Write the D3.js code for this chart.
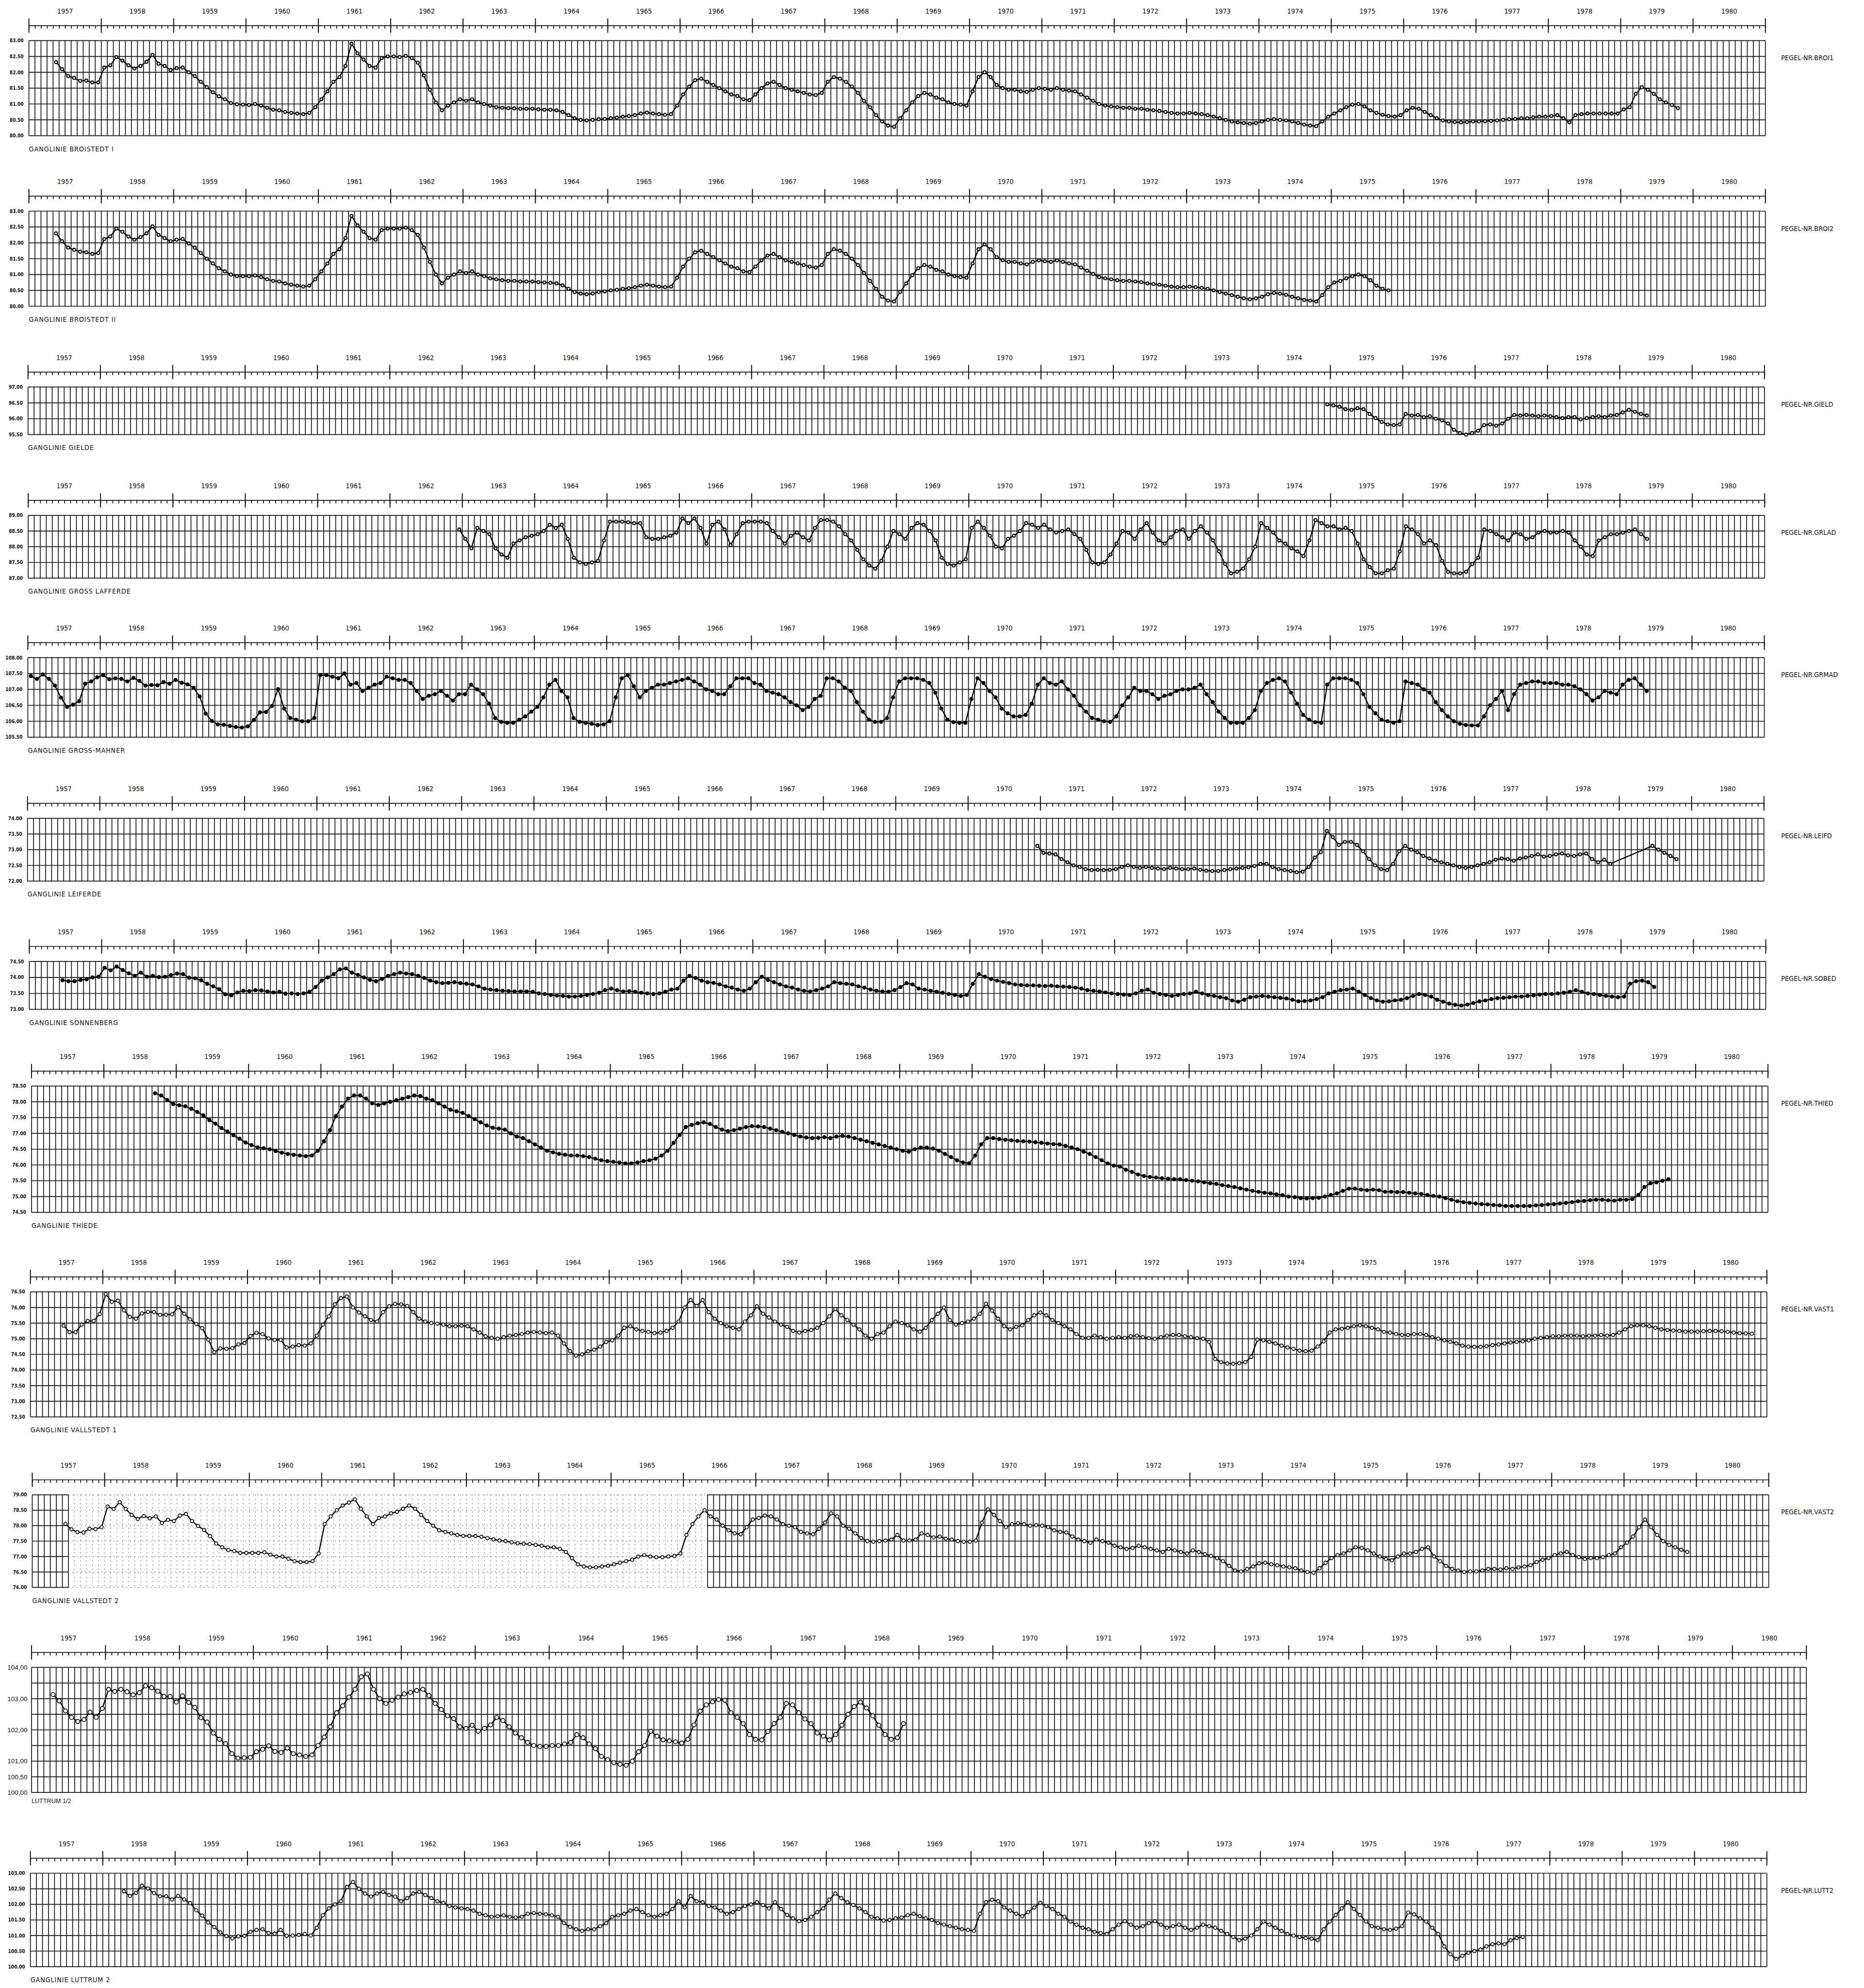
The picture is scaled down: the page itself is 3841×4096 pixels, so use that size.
<!DOCTYPE html>
<html>
<head>
<meta charset="utf-8">
<script src="https://cdn.jsdelivr.net/npm/d3@7"></script>
<style>
  body { margin: 0; background: #fff; }
  svg { display: block; }
  text.cond { font-family: 'DejaVu Sans Condensed', 'DejaVu Sans', sans-serif; font-stretch: condensed; fill: #111; }
  text.plain { font-family: 'Liberation Sans', Arial, sans-serif; fill: #111; }
</style>
</head>
<body>
<svg id="chart"></svg>
<script>
// Year labels along the top axis of every panel
const years = d3.range(1957, 1981);

// Monthly groundwater levels, one array per gauge.
// "...Start" = month index of the first value, counted from Jan 1957.
const broi1Start = 4;
const broi1 = [
  82.32, 82.10, 81.88, 81.82, 81.73, 81.74, 81.68, 81.68,
  82.15, 82.22, 82.48, 82.37, 82.22, 82.12, 82.20, 82.33, 82.55, 82.27, 82.20, 82.07,
  82.13, 82.15, 82.00, 81.88, 81.70, 81.53, 81.37, 81.24, 81.15, 81.03, 80.99, 80.98,
  80.97, 81.00, 80.95, 80.88, 80.82, 80.80, 80.75, 80.72, 80.70, 80.68, 80.72, 80.90,
  81.15, 81.40, 81.70, 81.85, 82.20, 82.90, 82.60, 82.40, 82.20, 82.15, 82.45, 82.50,
  82.50, 82.48, 82.52, 82.45, 82.30, 81.90, 81.45, 81.05, 80.80, 80.95, 81.05, 81.15,
  81.10, 81.15, 81.05, 81.00, 80.95, 80.90, 80.88, 80.87, 80.86, 80.85, 80.85, 80.85,
  80.83, 80.82, 80.82, 80.80, 80.75, 80.65, 80.55, 80.50, 80.48, 80.50, 80.52, 80.53,
  80.55, 80.57, 80.60, 80.62, 80.65, 80.70, 80.73, 80.70, 80.68, 80.66, 80.68, 80.95,
  81.30, 81.55, 81.75, 81.80, 81.70, 81.60, 81.50, 81.40, 81.30, 81.25, 81.15, 81.12,
  81.30, 81.50, 81.65, 81.70, 81.60, 81.50, 81.45, 81.40, 81.35, 81.30, 81.28, 81.35,
  81.70, 81.85, 81.80, 81.70, 81.55, 81.35, 81.10, 80.90, 80.65, 80.45, 80.32, 80.28,
  80.55, 80.80, 81.05, 81.25, 81.35, 81.30, 81.20, 81.15, 81.05, 81.00, 80.98, 80.95,
  81.40, 81.85, 82.00, 81.85, 81.60, 81.50, 81.45, 81.45, 81.40, 81.38, 81.45, 81.50,
  81.48, 81.45, 81.50, 81.45, 81.42, 81.40, 81.30, 81.20, 81.10, 81.00, 80.95, 80.92,
  80.90, 80.88, 80.88, 80.85, 80.85, 80.82, 80.80, 80.78, 80.75, 80.72, 80.70, 80.70,
  80.72, 80.70, 80.68, 80.65, 80.60, 80.55, 80.50, 80.45, 80.42, 80.40, 80.38, 80.40,
  80.45, 80.50, 80.52, 80.50, 80.48, 80.45, 80.40, 80.35, 80.32, 80.30, 80.45, 80.60,
  80.70, 80.80, 80.90, 80.98, 81.00, 80.92, 80.80, 80.72, 80.66, 80.62, 80.60, 80.65,
  80.80, 80.88, 80.85, 80.75, 80.65, 80.55, 80.48, 80.45, 80.43, 80.42, 80.43, 80.45,
  80.45, 80.46, 80.47, 80.48, 80.50, 80.52, 80.53, 80.55, 80.55, 80.58, 80.60, 80.60,
  80.62, 80.65, 80.55, 80.42, 80.65, 80.68, 80.70, 80.70, 80.70, 80.70, 80.70, 80.70,
  80.83, 80.90, 81.32, 81.53, 81.45, 81.32, 81.15, 81.05, 80.97, 80.87
];

const broi2Start = 4;
const broi2 = [
  82.30, 82.05, 81.85, 81.78, 81.72, 81.70, 81.65, 81.68,
  82.12, 82.20, 82.45, 82.35, 82.20, 82.10, 82.18, 82.30, 82.52, 82.25, 82.15, 82.05,
  82.10, 82.12, 81.98, 81.85, 81.68, 81.50, 81.35, 81.20, 81.10, 81.00, 80.95, 80.95,
  80.95, 80.97, 80.92, 80.85, 80.80, 80.78, 80.72, 80.68, 80.65, 80.62, 80.65, 80.85,
  81.10, 81.35, 81.65, 81.80, 82.15, 82.85, 82.55, 82.35, 82.15, 82.10, 82.40, 82.45,
  82.45, 82.45, 82.48, 82.40, 82.25, 81.85, 81.40, 81.00, 80.72, 80.90, 81.00, 81.10,
  81.05, 81.10, 81.00, 80.95, 80.88, 80.85, 80.82, 80.80, 80.80, 80.78, 80.78, 80.78,
  80.76, 80.75, 80.74, 80.72, 80.66, 80.55, 80.45, 80.40, 80.38, 80.40, 80.45, 80.47,
  80.50, 80.52, 80.55, 80.57, 80.60, 80.65, 80.68, 80.65, 80.62, 80.60, 80.62, 80.90,
  81.25, 81.50, 81.70, 81.75, 81.65, 81.55, 81.45, 81.35, 81.25, 81.20, 81.10, 81.08,
  81.25, 81.45, 81.60, 81.65, 81.55, 81.45, 81.40, 81.35, 81.30, 81.25, 81.22, 81.30,
  81.65, 81.80, 81.75, 81.65, 81.50, 81.30, 81.05, 80.80, 80.55, 80.30, 80.18, 80.15,
  80.45, 80.72, 80.98, 81.20, 81.30, 81.25, 81.15, 81.10, 81.00, 80.95, 80.92, 80.90,
  81.35, 81.80, 81.95, 81.80, 81.55, 81.45, 81.40, 81.40, 81.35, 81.32, 81.40, 81.45,
  81.42, 81.40, 81.45, 81.40, 81.35, 81.32, 81.22, 81.12, 81.02, 80.92, 80.88, 80.85,
  80.82, 80.80, 80.80, 80.78, 80.76, 80.72, 80.70, 80.68, 80.65, 80.62, 80.60, 80.60,
  80.62, 80.60, 80.58, 80.55, 80.50, 80.45, 80.40, 80.35, 80.30, 80.25, 80.22, 80.25,
  80.30, 80.38, 80.42, 80.40, 80.36, 80.30, 80.25, 80.20, 80.18, 80.15, 80.35, 80.60,
  80.75, 80.80, 80.88, 80.95, 81.00, 80.95, 80.82, 80.65, 80.55, 80.50
];

const gieldStart = 215;
const gield = [
  96.45,
  96.42, 96.38, 96.30, 96.28, 96.33, 96.30, 96.15, 96.02, 95.90, 95.82, 95.80, 95.82,
  96.15, 96.10, 96.12, 96.05, 96.08, 96.00, 95.95, 95.85, 95.65, 95.55, 95.50, 95.55,
  95.62, 95.80, 95.82, 95.78, 95.85, 96.00, 96.12, 96.10, 96.12, 96.10, 96.08, 96.10,
  96.08, 96.05, 96.02, 96.05, 96.05, 95.98, 96.02, 96.05, 96.08, 96.05, 96.10, 96.12,
  96.20, 96.28, 96.22, 96.15, 96.10
];

const grladStart = 71;
const grlad = [
  88.55,
  88.25, 87.95, 88.60, 88.50, 88.40, 87.95, 87.75, 87.65, 88.10, 88.20, 88.30, 88.35,
  88.40, 88.50, 88.70, 88.60, 88.70, 88.25, 87.65, 87.50, 87.45, 87.50, 87.55, 88.20,
  88.80, 88.80, 88.80, 88.78, 88.75, 88.75, 88.30, 88.25, 88.25, 88.30, 88.35, 88.45,
  88.90, 88.75, 88.90, 88.60, 88.10, 88.70, 88.80, 88.55, 88.05, 88.40, 88.75, 88.80,
  88.80, 88.80, 88.75, 88.50, 88.30, 88.10, 88.35, 88.45, 88.30, 88.20, 88.60, 88.85,
  88.85, 88.80, 88.65, 88.40, 88.20, 87.90, 87.60, 87.40, 87.30, 87.55, 88.00, 88.50,
  88.40, 88.25, 88.60, 88.75, 88.70, 88.50, 88.20, 87.65, 87.45, 87.40, 87.50, 87.60,
  88.60, 88.80, 88.60, 88.35, 88.00, 87.95, 88.25, 88.35, 88.50, 88.75, 88.70, 88.60,
  88.70, 88.55, 88.45, 88.50, 88.55, 88.40, 88.25, 87.90, 87.50, 87.45, 87.50, 87.75,
  88.10, 88.50, 88.45, 88.25, 88.55, 88.75, 88.45, 88.20, 88.10, 88.30, 88.50, 88.55,
  88.25, 88.50, 88.65, 88.45, 88.20, 87.85, 87.45, 87.15, 87.20, 87.30, 87.60, 88.00,
  88.75, 88.60, 88.45, 88.20, 88.10, 87.95, 87.85, 87.70, 88.20, 88.85, 88.75, 88.65,
  88.65, 88.55, 88.60, 88.50, 88.10, 87.60, 87.35, 87.15, 87.15, 87.25, 87.30, 87.85,
  88.65, 88.55, 88.40, 88.10, 88.20, 88.05, 87.55, 87.20, 87.15, 87.15, 87.20, 87.45,
  87.65, 88.55, 88.50, 88.40, 88.30, 88.20, 88.45, 88.40, 88.25, 88.30, 88.45, 88.50,
  88.45, 88.45, 88.50, 88.45, 88.20, 88.00, 87.75, 87.70, 88.20, 88.30, 88.40, 88.40,
  88.45, 88.50, 88.55, 88.40, 88.25
];

const grmadStart = 0;
const grmad = [
  107.42, 107.33, 107.47, 107.33, 107.12, 106.74, 106.45, 106.52, 106.63, 107.18, 107.25, 107.38,
  107.45, 107.32, 107.35, 107.33, 107.25, 107.36, 107.27, 107.12, 107.14, 107.13, 107.23, 107.18,
  107.30, 107.21, 107.16, 107.05, 106.78, 106.24, 106.01, 105.90, 105.89, 105.85, 105.82, 105.80,
  105.84, 106.04, 106.28, 106.29, 106.48, 107.01, 106.40, 106.10, 106.05, 106.00, 106.00, 106.10,
  107.45, 107.45, 107.40, 107.35, 107.50, 107.15, 107.20, 106.95, 107.05, 107.15, 107.20, 107.40,
  107.35, 107.30, 107.30, 107.20, 106.95, 106.70, 106.80, 106.85, 106.95, 106.80, 106.65, 106.85,
  106.85, 107.15, 107.00, 106.85, 106.55, 106.10, 105.98, 105.95, 105.95, 106.05, 106.15, 106.30,
  106.45, 106.75, 107.15, 107.30, 106.95, 106.75, 106.10, 105.98, 105.95, 105.92, 105.88, 105.90,
  106.00, 106.75, 107.35, 107.45, 107.10, 106.75, 106.95, 107.05, 107.15, 107.15, 107.20, 107.25,
  107.30, 107.35, 107.25, 107.15, 107.00, 106.95, 106.85, 106.85, 107.10, 107.35, 107.35, 107.35,
  107.20, 107.15, 106.95, 106.90, 106.85, 106.75, 106.60, 106.50, 106.35, 106.45, 106.70, 106.80,
  107.35, 107.35, 107.25, 107.05, 106.95, 106.60, 106.30, 106.05, 105.98, 105.98, 106.10, 106.75,
  107.25, 107.35, 107.35, 107.35, 107.30, 107.20, 106.90, 106.40, 106.05, 105.97, 105.95, 105.95,
  106.70, 107.35, 107.20, 106.95, 106.75, 106.40, 106.25, 106.15, 106.15, 106.20, 106.55, 107.15,
  107.35, 107.20, 107.15, 107.25, 107.00, 106.80, 106.50, 106.30, 106.10, 106.05, 106.00, 105.98,
  106.15, 106.50, 106.75, 107.05, 106.95, 106.95, 106.85, 106.70, 106.80, 106.85, 106.95, 107.00,
  107.00, 107.05, 107.15, 106.85, 106.60, 106.30, 106.10, 105.95, 105.95, 105.95, 106.10, 106.35,
  106.95, 107.20, 107.30, 107.35, 107.25, 106.90, 106.55, 106.20, 106.05, 105.97, 105.95, 107.15,
  107.35, 107.35, 107.35, 107.30, 107.20, 106.85, 106.45, 106.25, 106.05, 106.00, 105.95, 106.00,
  107.25, 107.20, 107.15, 107.00, 106.90, 106.60, 106.35, 106.15, 106.00, 105.92, 105.88, 105.87,
  105.87, 106.15, 106.50, 106.70, 106.95, 106.35, 106.85, 107.15, 107.20, 107.25, 107.25, 107.20,
  107.20, 107.20, 107.15, 107.15, 107.10, 107.00, 106.85, 106.65, 106.75, 106.95, 106.90, 106.85,
  107.15, 107.30, 107.35, 107.15, 106.95
];

// null = no reading (the plotter joined the gap with a straight line)
const leifdStart = 167;
const leifd = [
  73.12,
  72.90, 72.88, 72.85, 72.70, 72.60, 72.50, 72.45, 72.38, 72.35, 72.36, 72.35, 72.36,
  72.38, 72.45, 72.50, 72.45, 72.42, 72.45, 72.42, 72.40, 72.38, 72.42, 72.40, 72.38,
  72.38, 72.40, 72.36, 72.33, 72.32, 72.32, 72.35, 72.38, 72.40, 72.42, 72.44, 72.48,
  72.55, 72.55, 72.45, 72.38, 72.35, 72.32, 72.28, 72.30, 72.45, 72.75, 72.92, 73.60,
  73.40, 73.15, 73.25, 73.25, 73.15, 72.95, 72.70, 72.50, 72.38, 72.35, 72.55, 72.95,
  73.12, 73.00, 72.92, 72.80, 72.72, 72.65, 72.60, 72.55, 72.50, 72.45, 72.42, 72.45,
  72.50, 72.55, 72.60, 72.68, 72.72, 72.70, 72.65, 72.72, 72.75, 72.80, 72.85, 72.78,
  72.80, 72.85, 72.88, 72.82, 72.80, 72.85, 72.88, 72.70, 72.60, 72.68, 72.55, null,
  null, null, null, null, null, 73.12, 73.00, 72.90, 72.80, 72.70
];

const sobedStart = 5;
const sobed = [
  73.91, 73.88, 73.88, 73.92, 73.94, 74.00, 74.02,
  74.30, 74.22, 74.34, 74.23, 74.13, 74.05, 74.15, 74.02, 74.05, 74.01, 74.02, 74.07,
  74.12, 74.10, 73.99, 73.97, 73.91, 73.80, 73.72, 73.63, 73.47, 73.44, 73.53, 73.58,
  73.57, 73.60, 73.59, 73.56, 73.53, 73.55, 73.49, 73.50, 73.48, 73.50, 73.55, 73.70,
  73.90, 74.00, 74.10, 74.25, 74.28, 74.15, 74.08, 74.00, 73.92, 73.88, 73.95, 74.05,
  74.10, 74.15, 74.12, 74.10, 74.05, 73.98, 73.90, 73.85, 73.82, 73.83, 73.85, 73.82,
  73.80, 73.78, 73.72, 73.65, 73.62, 73.60, 73.58, 73.57, 73.56, 73.56, 73.56, 73.55,
  73.50, 73.48, 73.45, 73.43, 73.42, 73.40, 73.40, 73.42, 73.45, 73.48, 73.52, 73.60,
  73.65, 73.60, 73.56, 73.57, 73.55, 73.52, 73.50, 73.48, 73.50, 73.55, 73.62, 73.65,
  73.90, 74.05, 73.98, 73.90, 73.85, 73.83, 73.78, 73.72, 73.68, 73.62, 73.58, 73.65,
  73.85, 74.02, 73.92, 73.85, 73.78, 73.72, 73.68, 73.62, 73.58, 73.56, 73.60, 73.65,
  73.72, 73.85, 73.82, 73.80, 73.78, 73.72, 73.68, 73.62, 73.58, 73.56, 73.55, 73.60,
  73.70, 73.82, 73.78, 73.65, 73.62, 73.58, 73.55, 73.52, 73.48, 73.45, 73.42, 73.45,
  73.80, 74.10, 74.02, 73.95, 73.90, 73.86, 73.82, 73.78, 73.76, 73.75, 73.75, 73.74,
  73.73, 73.74, 73.72, 73.71, 73.70, 73.68, 73.65, 73.60, 73.58, 73.56, 73.53, 73.50,
  73.48, 73.46, 73.45, 73.50, 73.58, 73.62, 73.52, 73.48, 73.45, 73.42, 73.45, 73.48,
  73.50, 73.55, 73.50, 73.45, 73.42, 73.38, 73.35, 73.28, 73.24, 73.30, 73.38, 73.40,
  73.42, 73.40, 73.38, 73.36, 73.34, 73.30, 73.25, 73.26, 73.28, 73.32, 73.38, 73.50,
  73.55, 73.60, 73.62, 73.65, 73.55, 73.45, 73.35, 73.28, 73.24, 73.25, 73.28, 73.30,
  73.35, 73.42, 73.48, 73.45, 73.40, 73.30, 73.24, 73.18, 73.14, 73.12, 73.15, 73.20,
  73.25, 73.28, 73.32, 73.35, 73.36, 73.38, 73.40, 73.40, 73.42, 73.44, 73.46, 73.48,
  73.48, 73.50, 73.52, 73.55, 73.60, 73.55, 73.50, 73.48, 73.45, 73.42, 73.40, 73.38,
  73.40, 73.80, 73.88, 73.90, 73.85, 73.70
];

const thiedStart = 20;
const thied = [
  78.27, 78.20, 78.06, 77.93,
  77.89, 77.86, 77.78, 77.68, 77.57, 77.42, 77.31, 77.17, 77.06, 76.94, 76.83, 76.71,
  76.63, 76.56, 76.53, 76.50, 76.44, 76.39, 76.35, 76.32, 76.30, 76.28, 76.30, 76.45,
  76.75, 77.10, 77.55, 77.85, 78.10, 78.20, 78.20, 78.10, 77.95, 77.90, 77.95, 78.00,
  78.05, 78.10, 78.15, 78.20, 78.18, 78.10, 78.05, 77.95, 77.85, 77.75, 77.70, 77.65,
  77.55, 77.45, 77.35, 77.25, 77.18, 77.15, 77.12, 77.00, 76.90, 76.85, 76.75, 76.65,
  76.55, 76.45, 76.40, 76.35, 76.32, 76.30, 76.30, 76.28, 76.25, 76.20, 76.15, 76.12,
  76.10, 76.08, 76.05, 76.05, 76.08, 76.12, 76.15, 76.20, 76.30, 76.45, 76.70, 76.95,
  77.20, 77.27, 77.32, 77.35, 77.30, 77.20, 77.12, 77.07, 77.10, 77.15, 77.20, 77.23,
  77.22, 77.20, 77.15, 77.10, 77.05, 77.00, 76.95, 76.90, 76.87, 76.85, 76.86, 76.88,
  76.85, 76.90, 76.92, 76.90, 76.85, 76.80, 76.75, 76.70, 76.65, 76.60, 76.55, 76.50,
  76.45, 76.42, 76.50, 76.55, 76.55, 76.52, 76.45, 76.35, 76.25, 76.15, 76.08, 76.05,
  76.30, 76.65, 76.85, 76.85, 76.82, 76.80, 76.78, 76.76, 76.75, 76.74, 76.72, 76.70,
  76.68, 76.66, 76.65, 76.60, 76.55, 76.50, 76.42, 76.35, 76.25, 76.15, 76.05, 75.98,
  75.95, 75.85, 75.78, 75.70, 75.65, 75.62, 75.60, 75.58, 75.56, 75.55, 75.55, 75.52,
  75.50, 75.48, 75.45, 75.42, 75.40, 75.36, 75.33, 75.30, 75.26, 75.22, 75.18, 75.15,
  75.12, 75.10, 75.07, 75.04, 75.00, 74.98, 74.95, 74.94, 74.95, 74.96, 75.00, 75.05,
  75.10, 75.18, 75.25, 75.25, 75.22, 75.20, 75.22, 75.20, 75.15, 75.15, 75.14, 75.14,
  75.12, 75.10, 75.08, 75.05, 75.02, 75.00, 74.95, 74.90, 74.85, 74.82, 74.80, 74.78,
  74.76, 74.75, 74.73, 74.72, 74.70, 74.70, 74.70, 74.70, 74.70, 74.72, 74.73, 74.75,
  74.76, 74.78, 74.80, 74.82, 74.85, 74.86, 74.88, 74.90, 74.90, 74.88, 74.87, 74.90,
  74.90, 74.92, 75.05, 75.30, 75.42, 75.45, 75.50, 75.55
];

const vast1Start = 5;
const vast1 = [
  75.42, 75.21, 75.21, 75.45, 75.57, 75.57, 75.79,
  76.43, 76.18, 76.22, 75.91, 75.70, 75.64, 75.81, 75.86, 75.85, 75.76, 75.77, 75.78,
  76.01, 75.80, 75.62, 75.47, 75.34, 74.97, 74.57, 74.69, 74.68, 74.70, 74.82, 74.86,
  75.09, 75.19, 75.15, 75.01, 74.96, 74.96, 74.72, 74.75, 74.80, 74.78, 74.85, 75.10,
  75.45, 75.72, 76.10, 76.30, 76.35, 76.00, 75.84, 75.72, 75.60, 75.55, 75.85, 76.04,
  76.12, 76.10, 76.05, 75.85, 75.64, 75.55, 75.50, 75.48, 75.45, 75.40, 75.40, 75.42,
  75.40, 75.30, 75.20, 75.08, 75.03, 75.00, 75.05, 75.10, 75.12, 75.15, 75.20, 75.22,
  75.20, 75.18, 75.20, 75.10, 74.85, 74.60, 74.46, 74.50, 74.60, 74.65, 74.75, 74.90,
  74.95, 75.10, 75.35, 75.40, 75.30, 75.25, 75.22, 75.18, 75.20, 75.25, 75.35, 75.55,
  76.00, 76.24, 76.05, 76.24, 75.85, 75.64, 75.50, 75.40, 75.35, 75.30, 75.55, 75.75,
  76.04, 75.80, 75.68, 75.55, 75.45, 75.38, 75.25, 75.20, 75.25, 75.28, 75.35, 75.50,
  75.72, 75.95, 75.75, 75.60, 75.45, 75.30, 75.10, 75.00, 75.15, 75.20, 75.40, 75.55,
  75.50, 75.43, 75.30, 75.23, 75.35, 75.60, 75.80, 76.00, 75.60, 75.45, 75.50, 75.55,
  75.64, 75.80, 76.12, 75.90, 75.64, 75.40, 75.30, 75.38, 75.43, 75.60, 75.75, 75.84,
  75.75, 75.60, 75.50, 75.40, 75.30, 75.15, 75.03, 75.03, 75.10, 75.05, 75.00, 75.03,
  75.05, 75.03, 75.08, 75.10, 75.05, 75.02, 75.00, 75.05, 75.10, 75.12, 75.12, 75.08,
  75.05, 75.02, 75.00, 74.90, 74.35, 74.25, 74.21, 74.20, 74.22, 74.25, 74.42, 74.97,
  74.95, 74.90, 74.85, 74.78, 74.72, 74.68, 74.62, 74.60, 74.62, 74.75, 74.92, 75.20,
  75.30, 75.32, 75.35, 75.40, 75.43, 75.40, 75.35, 75.30, 75.22, 75.20, 75.15, 75.12,
  75.12, 75.15, 75.15, 75.12, 75.05, 75.00, 74.95, 74.90, 74.85, 74.78, 74.75, 74.74,
  74.74, 74.76, 74.80, 74.82, 74.85, 74.88, 74.90, 74.92, 74.95, 75.00, 75.03, 75.05,
  75.08, 75.08, 75.10, 75.10, 75.10, 75.08, 75.10, 75.10, 75.12, 75.10, 75.12, 75.20,
  75.30, 75.40, 75.43, 75.43, 75.40, 75.35, 75.30, 75.28, 75.26, 75.25, 75.23, 75.23,
  75.23, 75.24, 75.25, 75.25, 75.24, 75.22, 75.20, 75.18, 75.17, 75.16
];

const vast2Start = 5;
const vast2 = [
  78.06, 77.88, 77.79, 77.78, 77.90, 77.89, 77.95,
  78.62, 78.54, 78.76, 78.54, 78.35, 78.22, 78.31, 78.24, 78.30, 78.09, 78.19, 78.15,
  78.33, 78.38, 78.15, 77.99, 77.86, 77.66, 77.42, 77.30, 77.21, 77.18, 77.12, 77.12,
  77.12, 77.12, 77.14, 77.06, 77.00, 77.00, 76.93, 76.85, 76.82, 76.82, 76.85, 77.10,
  78.05, 78.30, 78.50, 78.65, 78.75, 78.85, 78.55, 78.30, 78.05, 78.25, 78.30, 78.40,
  78.45, 78.55, 78.65, 78.55, 78.35, 78.15, 78.00, 77.85, 77.80, 77.75, 77.70, 77.67,
  77.67, 77.66, 77.64, 77.60, 77.56, 77.52, 77.50, 77.46, 77.43, 77.42, 77.40, 77.38,
  77.35, 77.30, 77.30, 77.25, 77.15, 76.95, 76.75, 76.68, 76.65, 76.65, 76.68, 76.70,
  76.75, 76.80, 76.85, 76.90, 77.00, 77.05, 77.00, 76.98, 76.98, 77.00, 77.02, 77.10,
  77.70, 78.05, 78.30, 78.50, 78.30, 78.20, 78.00, 77.85, 77.75, 77.72, 77.95, 78.20,
  78.25, 78.33, 78.30, 78.20, 78.05, 78.00, 77.95, 77.80, 77.75, 77.72, 77.90, 78.10,
  78.40, 78.30, 78.00, 77.90, 77.75, 77.60, 77.50, 77.48, 77.50, 77.52, 77.55, 77.70,
  77.52, 77.52, 77.55, 77.75, 77.70, 77.62, 77.65, 77.58, 77.55, 77.50, 77.48, 77.48,
  77.52, 78.10, 78.53, 78.35, 78.15, 77.95, 78.05, 78.08, 78.05, 78.00, 78.02, 78.00,
  77.95, 77.85, 77.80, 77.78, 77.65, 77.55, 77.50, 77.45, 77.55, 77.50, 77.45, 77.35,
  77.30, 77.25, 77.28, 77.35, 77.30, 77.25, 77.20, 77.15, 77.25, 77.20, 77.15, 77.10,
  77.20, 77.15, 77.08, 77.02, 76.95, 76.85, 76.70, 76.55, 76.52, 76.60, 76.68, 76.78,
  76.80, 76.75, 76.72, 76.68, 76.65, 76.62, 76.55, 76.50, 76.48, 76.62, 76.80, 76.95,
  77.05, 77.10, 77.20, 77.30, 77.28, 77.20, 77.10, 77.00, 76.92, 76.88, 77.00, 77.10,
  77.10, 77.15, 77.25, 77.30, 77.00, 76.85, 76.70, 76.60, 76.55, 76.50, 76.52, 76.52,
  76.55, 76.60, 76.60, 76.58, 76.62, 76.60, 76.65, 76.68, 76.72, 76.82, 76.90, 76.95,
  77.05, 77.10, 77.15, 77.05, 76.98, 76.92, 76.95, 76.95, 76.98, 77.05, 77.10, 77.30,
  77.45, 77.65, 77.95, 78.20, 77.95, 77.70, 77.50, 77.38, 77.30, 77.22, 77.15
];

const lutt12Start = 3;
const lutt12 = [
  103.13, 102.93, 102.61, 102.40, 102.27, 102.33, 102.57, 102.40, 102.69,
  103.30, 103.23, 103.30, 103.22, 103.12, 103.19, 103.41, 103.35, 103.24, 103.07, 103.07, 102.89,
  103.09, 102.88, 102.72, 102.39, 102.25, 101.90, 101.70, 101.56, 101.24, 101.10, 101.11, 101.12,
  101.30, 101.38, 101.49, 101.31, 101.28, 101.42, 101.24, 101.20, 101.15, 101.20, 101.50, 101.77,
  102.10, 102.55, 102.77, 103.05, 103.30, 103.70, 103.79, 103.30, 103.00, 102.85, 102.95, 103.05,
  103.15, 103.20, 103.26, 103.30, 103.10, 102.85, 102.65, 102.45, 102.36, 102.10, 102.05, 102.15,
  101.96, 102.05, 102.16, 102.40, 102.30, 102.10, 101.90, 101.75, 101.60, 101.50, 101.47, 101.47,
  101.50, 101.50, 101.55, 101.60, 101.85, 101.75, 101.55, 101.40, 101.15, 101.05, 100.95, 100.90,
  100.87, 101.00, 101.30, 101.50, 101.96, 101.80, 101.68, 101.65, 101.62, 101.58, 101.70, 102.16,
  102.60, 102.80, 102.90, 102.97, 102.95, 102.55, 102.40, 102.20, 101.85, 101.70, 101.68, 101.95,
  102.20, 102.40, 102.85, 102.80, 102.55, 102.35, 102.20, 101.90, 101.80, 101.68, 101.85, 102.15,
  102.50, 102.75, 102.89, 102.70, 102.45, 102.15, 101.85, 101.70, 101.75, 102.20
];

const lutt2Start = 15;
const lutt2 = [
  102.42, 102.27, 102.37, 102.60, 102.51, 102.36, 102.26, 102.26, 102.16,
  102.27, 102.16, 102.04, 101.81, 101.64, 101.42, 101.27, 101.10, 100.98, 100.91, 100.97, 100.99,
  101.12, 101.18, 101.20, 101.08, 101.06, 101.18, 100.99, 101.00, 101.02, 101.05, 101.00, 101.25,
  101.65, 101.87, 102.00, 102.10, 102.56, 102.72, 102.50, 102.35, 102.25, 102.35, 102.40, 102.30,
  102.25, 102.10, 102.20, 102.35, 102.40, 102.30, 102.20, 102.10, 102.05, 101.95, 101.90, 101.87,
  101.85, 101.80, 101.70, 101.65, 101.60, 101.62, 101.65, 101.60, 101.58, 101.60, 101.70, 101.72,
  101.70, 101.68, 101.65, 101.60, 101.40, 101.28, 101.20, 101.15, 101.20, 101.20, 101.30, 101.40,
  101.60, 101.65, 101.70, 101.80, 101.85, 101.75, 101.65, 101.60, 101.65, 101.70, 101.85, 102.10,
  101.90, 102.27, 102.10, 102.07, 101.95, 101.90, 101.80, 101.70, 101.75, 101.85, 101.95, 102.00,
  102.07, 101.98, 101.87, 102.07, 101.85, 101.66, 101.55, 101.46, 101.50, 101.60, 101.75, 101.87,
  102.15, 102.35, 102.20, 102.07, 101.98, 101.87, 101.75, 101.60, 101.55, 101.48, 101.50, 101.55,
  101.58, 101.65, 101.70, 101.62, 101.55, 101.50, 101.40, 101.35, 101.30, 101.25, 101.20, 101.18,
  101.15, 101.70, 102.07, 102.15, 102.10, 101.90, 101.80, 101.70, 101.62, 101.75, 101.90, 102.05,
  101.95, 101.85, 101.70, 101.60, 101.45, 101.35, 101.25, 101.20, 101.12, 101.08, 101.05, 101.20,
  101.35, 101.46, 101.35, 101.25, 101.30, 101.40, 101.46, 101.35, 101.25, 101.30, 101.35, 101.25,
  101.18, 101.25, 101.35, 101.30, 101.25, 101.15, 101.05, 100.95, 100.85, 100.90, 101.00, 101.20,
  101.45, 101.35, 101.25, 101.15, 101.05, 101.00, 100.95, 100.92, 100.90, 100.85, 101.20, 101.45,
  101.66, 101.87, 102.07, 101.85, 101.66, 101.45, 101.30, 101.25, 101.20, 101.18, 101.22, 101.30,
  101.74, 101.68, 101.55, 101.45, 101.25, 101.05, 100.65, 100.40, 100.25, 100.35, 100.45, 100.50,
  100.55, 100.65, 100.72, 100.75, 100.72, 100.85, 100.92, 100.95
];

// Panel layout, in the reference's own pixel space (the viewBox shrinks it to the window)
const panels = [
  { values: broi1, start: broi1Start, yMin: 80, steps: 6, top: 99, bottom: 331, left: 70.5, title: 'GANGLINIE BROISTEDT I', pegel: 'PEGEL-NR.BROI1' },
  { values: broi2, start: broi2Start, yMin: 80, steps: 6, top: 515, bottom: 747, left: 70.5, title: 'GANGLINIE BROISTEDT II', pegel: 'PEGEL-NR.BROI2' },
  { values: gield, start: gieldStart, yMin: 95.5, steps: 3, top: 944, bottom: 1060, left: 68.3, title: 'GANGLINIE GIELDE', pegel: 'PEGEL-NR.GIELD' },
  { values: grlad, start: grladStart, yMin: 87, steps: 4, top: 1257, bottom: 1410, left: 68.7, title: 'GANGLINIE GROSS LAFFERDE', pegel: 'PEGEL-NR.GRLAD' },
  { values: grmad, start: grmadStart, yMin: 105.5, steps: 5, top: 1604, bottom: 1798, left: 67.9, title: 'GANGLINIE GROSS-MAHNER', pegel: 'PEGEL-NR.GRMAD', filled: true },
  { values: leifd, start: leifdStart, yMin: 72, steps: 4, top: 1996, bottom: 2149, left: 67, title: 'GANGLINIE LEIFERDE', pegel: 'PEGEL-NR.LEIFD' },
  { values: sobed, start: sobedStart, yMin: 73, steps: 3, top: 2345, bottom: 2462, left: 71.4, title: 'GANGLINIE SONNENBERG', pegel: 'PEGEL-NR.SOBED', filled: true },
  { values: thied, start: thiedStart, yMin: 74.5, steps: 8, top: 2649, bottom: 2957, left: 76.8, title: 'GANGLINIE THIEDE', pegel: 'PEGEL-NR.THIED', filled: true },
  { values: vast1, start: vast1Start, yMin: 72.5, steps: 8, top: 3151, bottom: 3456, left: 74.1, title: 'GANGLINIE VALLSTEDT 1', pegel: 'PEGEL-NR.VAST1', open: true },
  { values: vast2, start: vast2Start, yMin: 76, steps: 6, top: 3646, bottom: 3872, left: 78.6, title: 'GANGLINIE VALLSTEDT 2', pegel: 'PEGEL-NR.VAST2', fade: [6, 112], open: true },
  { values: lutt12, start: lutt12Start, yMin: 100, steps: 8, top: 4067, bottom: 4372, left: 76.8, yearW: 180.4, title: 'LUTTRUM 1/2', pegel: null, alt: true, open: true },
  { values: lutt2, start: lutt2Start, yMin: 100, steps: 6, top: 4569, bottom: 4797, left: 74.1, title: 'GANGLINIE LUTTRUM 2', pegel: 'PEGEL-NR.LUTT2', open: true }
];

const svg = d3.select('#chart')
  .attr('width', 3841)
  .attr('height', 4096)
  .attr('viewBox', '0 0 4547 4849');

svg.append('rect').attr('width', 4547).attr('height', 4849).attr('fill', '#fff');

const ink = '#111';
const fadeInk = '#9a9a9a';

panels.forEach(p => {
  const g = svg.append('g');
  const yearW = p.yearW || 176.5;
  const x = d3.scaleLinear().domain([0, 288]).range([p.left, p.left + 24 * yearW]);
  const y = d3.scaleLinear().domain([p.yMin, p.yMin + p.steps * 0.5]).range([p.bottom, p.top]);
  const axisY = p.top - 37;
  const faded = m => p.fade && m > p.fade[0] && m < p.fade[1];

  // top time axis, month ticks hanging below the line
  g.append('g')
    .attr('transform', `translate(0,${axisY})`)
    .call(d3.axisBottom(x).tickValues(d3.range(0, 289)).tickSize(8).tickSizeOuter(0).tickFormat(''))
    .call(a => a.selectAll('line, path').attr('stroke', ink).attr('stroke-width', 2));

  // year ticks crossing the axis
  g.selectAll('line.year-tick')
    .data(d3.range(0, 289, 12))
    .enter()
    .append('line')
    .attr('class', 'year-tick')
    .attr('x1', d => x(d)).attr('x2', d => x(d))
    .attr('y1', axisY - 17).attr('y2', axisY + 18)
    .attr('stroke', ink)
    .attr('stroke-width', 2.4);

  // year labels, centred on each year
  g.selectAll('text.year')
    .data(years)
    .enter()
    .append('text')
    .attr('class', 'year cond')
    .attr('x', (d, i) => x(i * 12 + 6))
    .attr('y', p.top - 72)
    .attr('text-anchor', 'middle')
    .attr('dominant-baseline', 'central')
    .attr('font-size', 17)
    .attr('fill', d => (p.fade && d >= 1961 && d <= 1965) ? fadeInk : ink)
    .text(d => d);

  // vertical grid: one line per month boundary
  g.selectAll('line.vgrid')
    .data(d3.range(0, 289))
    .enter()
    .append('line')
    .attr('class', 'vgrid')
    .attr('x1', d => x(d)).attr('x2', d => x(d))
    .attr('y1', p.top).attr('y2', p.bottom)
    .attr('stroke', d => faded(d) ? fadeInk : ink)
    .attr('stroke-dasharray', d => faded(d) ? '3 7' : null)
    .attr('stroke-width', 2);

  // horizontal grid every 0.50 m (split where the scan is faded)
  const levels = d3.range(p.steps + 1).map(i => p.yMin + i * 0.5);
  const spans = p.fade ? [[0, p.fade[0], false], [p.fade[0], p.fade[1], true], [p.fade[1], 288, false]] : [[0, 288, false]];
  levels.forEach(v => {
    spans.forEach(([a, b, f]) => {
      g.append('line')
        .attr('x1', x(a)).attr('x2', x(b))
        .attr('y1', y(v)).attr('y2', y(v))
        .attr('stroke', f ? fadeInk : ink)
        .attr('stroke-dasharray', f ? '3 7' : null)
        .attr('stroke-width', 2);
    });
  });

  // level labels on the left
  const tickVals = p.alt ? [100, 100.5, 101, 102, 103, 104] : levels;
  const fmt = p.alt ? (d => d3.format('.2f')(d).replace('.', ',')) : d3.format('.2f');
  g.append('g')
    .attr('transform', `translate(${p.left},0)`)
    .call(d3.axisLeft(y).tickValues(tickVals).tickSize(0).tickPadding(p.alt ? 10 : 13).tickFormat(fmt))
    .call(a => a.select('.domain').remove())
    .call(a => a.selectAll('text')
      .attr('class', p.alt ? 'plain' : 'cond')
      .attr('font-size', p.alt ? 16 : 12)
      .attr('font-weight', p.alt ? 'normal' : 'bold')
      .attr('fill', ink));

  // hydrograph line and monthly markers
  const pts = p.values
    .map((v, i) => ({ m: p.start + i, v }))
    .filter(d => d.v != null);

  g.append('path')
    .datum(pts)
    .attr('d', d3.line().x(d => x(d.m + 0.5)).y(d => y(d.v)))
    .attr('fill', 'none')
    .attr('stroke', '#000')
    .attr('stroke-width', 2.8)
    .attr('stroke-linejoin', 'round');

  g.selectAll('circle.pt')
    .data(pts)
    .enter()
    .append('circle')
    .attr('class', 'pt')
    .attr('cx', d => x(d.m + 0.5))
    .attr('cy', d => y(d.v))
    .attr('r', p.alt ? 5 : (p.open ? 4 : 3.6))
    .attr('fill', p.filled ? '#000' : '#fff')
    .attr('stroke', '#000')
    .attr('stroke-width', p.open ? 2 : 2.5);

  // captions
  g.append('text')
    .attr('class', p.alt ? 'plain' : 'cond')
    .attr('x', p.left)
    .attr('y', p.bottom + (p.alt ? 21 : 32))
    .attr('dominant-baseline', 'central')
    .attr('font-size', p.alt ? 15 : 17)
    .attr('letter-spacing', p.alt ? 0 : 1)
    .text(p.title);

  if (p.pegel) {
    g.append('text')
      .attr('class', 'cond')
      .attr('x', 4345)
      .attr('y', p.top + 42)
      .attr('dominant-baseline', 'central')
      .attr('font-size', 17)
      .text(p.pegel);
  }
});
</script>
</body>
</html>
